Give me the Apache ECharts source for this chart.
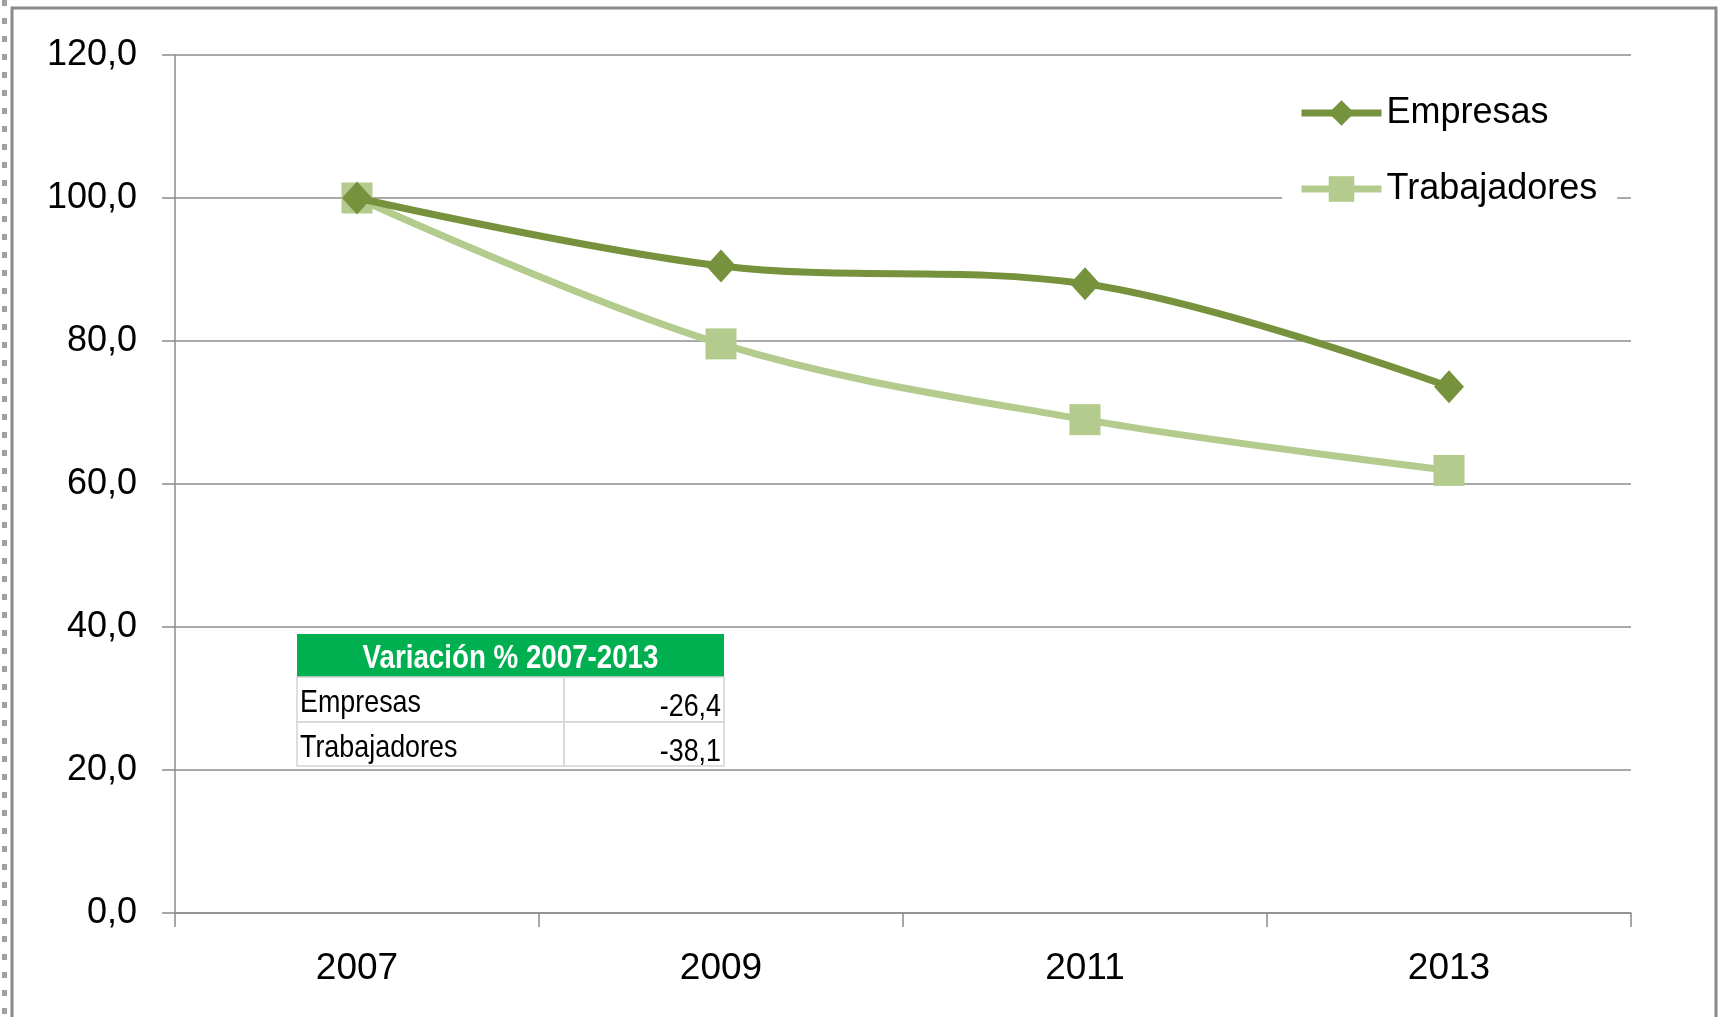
<!DOCTYPE html>
<html><head><meta charset="utf-8">
<script src="https://cdn.jsdelivr.net/npm/echarts@6/dist/echarts.min.js"></script>
<style>html,body{margin:0;padding:0;background:#fff}#c{width:1723px;height:1017px}</style>
</head><body><div id="c"></div>
<script>
const categories = ['2007','2009','2011','2013'];
const empresas = [100.0, 90.5, 88.0, 73.6];
const trabajadores = [100.0, 79.6, 69.0, 61.9];
const yTicks = {min: 0, max: 120, interval: 20};
const tableTitle = 'Variación % 2007-2013';
const tableLabels = ['Empresas','Trabajadores'];
const tableValues = ['-26,4','-38,1'];

const FONT = "'Liberation Sans Narrow','Arial Narrow','Liberation Sans',sans-serif";
const C1 = '#76923C', C2 = '#B4CB8E';
const NX = 0.84;

const chart = echarts.init(document.getElementById('c'));

const tbl = [];
const tx = 297, tw = 427, cdiv = 564, hy = 634, hh = 43;
const rowsY = [677, 722], rowsH = [45, 44];
tbl.push({type:'rect', shape:{x:tx,y:hy,width:tw,height:hh}, style:{fill:'#00B050'}, z:100});
tbl.push({type:'text', x:tx+tw/2, y:hy+hh/2+3, scaleX:NX, style:{text:tableTitle, fill:'#fff', font:'bold 33px '+FONT, align:'center', verticalAlign:'middle'}, z:101});
tableLabels.forEach((lab,i)=>{
  tbl.push({type:'rect', shape:{x:tx,y:rowsY[i],width:cdiv-tx,height:rowsH[i]}, style:{fill:'#fff', stroke:'#d4d4d4', lineWidth:1.5}, z:100});
  tbl.push({type:'rect', shape:{x:cdiv,y:rowsY[i],width:tx+tw-cdiv,height:rowsH[i]}, style:{fill:'#fff', stroke:'#d4d4d4', lineWidth:1.5}, z:100});
  tbl.push({type:'text', x:tx+3, y:rowsY[i]+rowsH[i]/2+4, scaleX:NX, style:{text:lab, fill:'#000', font:'32px '+FONT, align:'left', verticalAlign:'middle'}, z:101});
  tbl.push({type:'text', x:tx+tw-3, y:rowsY[i]+rowsH[i]/2+8, scaleX:NX, style:{text:tableValues[i], fill:'#000', font:'32px '+FONT, align:'right', verticalAlign:'middle'}, z:101});
});

chart.setOption({
  animation:false,
  backgroundColor:'#fff',
  grid:{left:175, right:92, top:55, bottom:104},
  legend:{
    orient:'vertical', left:1282, top:82, padding:[10,20,10,16],
    backgroundColor:'#fff', itemWidth:80, itemHeight:32, itemGap:34,
    textStyle:{fontFamily:FONT, fontSize:36, color:'#000', lineHeight:42},
    lineStyle:{width:7},
    data:['Empresas','Trabajadores'], z:50
  },
  xAxis:{
    type:'category', data:categories, boundaryGap:true,
    axisLine:{lineStyle:{color:'#8c8c8c', width:1.5}},
    axisTick:{show:true, length:14, lineStyle:{color:'#8c8c8c', width:1.5}},
    axisLabel:{margin:37, fontFamily:FONT, fontSize:37, color:'#000'}
  },
  yAxis:{
    type:'value', min:yTicks.min, max:yTicks.max, interval:yTicks.interval,
    axisLine:{show:true, lineStyle:{color:'#8c8c8c', width:1.5}},
    axisTick:{show:true, length:13, lineStyle:{color:'#8c8c8c', width:1.5}},
    splitLine:{lineStyle:{color:'#8c8c8c', width:1.5}},
    axisLabel:{margin:38, fontFamily:FONT, fontSize:36, color:'#000', formatter:v=>v.toFixed(1).replace('.',',')}
  },
  series:[
    {name:'Empresas', type:'line', data:empresas, smooth:0.35, symbol:'diamond', symbolSize:[30,33],
     lineStyle:{color:C1, width:7}, itemStyle:{color:C1}, z:3},
    {name:'Trabajadores', type:'line', data:trabajadores, smooth:0.35, symbol:'rect', symbolSize:31,
     lineStyle:{color:C2, width:7}, itemStyle:{color:C2}, z:2}
  ],
  graphic:[
    {type:'rect', shape:{x:12,y:8,width:1704,height:1030}, style:{fill:'none', stroke:'#8a8a8a', lineWidth:3}, z:90},
    {type:'line', shape:{x1:4.5,y1:0,x2:4.5,y2:1017}, style:{stroke:'#a0a0a0', lineWidth:5, lineDash:[6,12]}, z:90}
  ].concat(tbl)
});
</script></body></html>
